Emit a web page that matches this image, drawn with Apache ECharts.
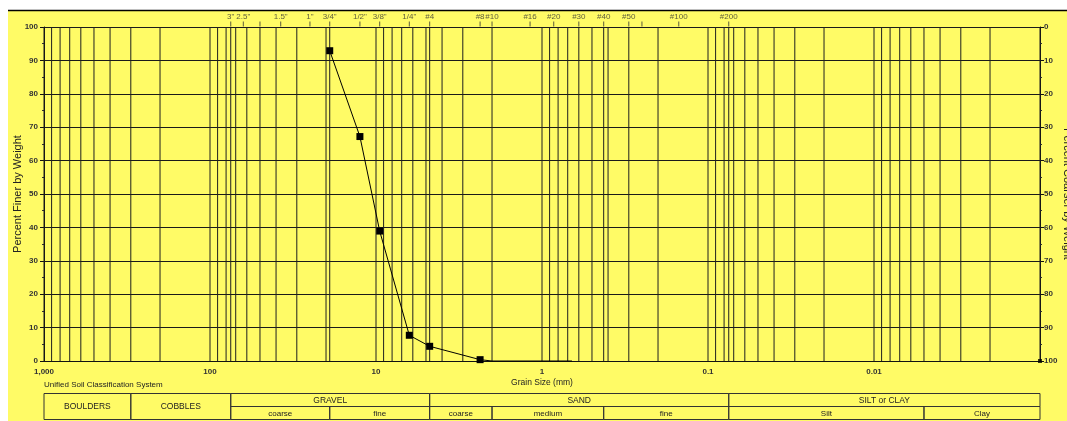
<!DOCTYPE html>
<html>
<head>
<meta charset="utf-8">
<script src="https://cdn.jsdelivr.net/npm/echarts@6/dist/echarts.min.js"></script>
<style>
  html, body { margin: 0; padding: 0; background: #ffffff; }
  #chart { width: 1067px; height: 421px; }
</style>
</head>
<body>
<div id="chart"></div>
<script>
// ---- Sieve analysis results ----
const grainSize    = [19, 12.5, 9.5, 6.3, 4.75, 2.36, 2.0, 0.66];
const percentFiner = [92.9, 67.2, 38.9, 7.7, 4.4, 0.4, 0, 0];
// fines end point
const finesSize    = [0.001];
const finesPercent = [0];

// ---- US standard sieve openings (mm) shown along the top ----
const sieveSizes = [75, 63, 50, 37.5, 25, 19, 12.5, 9.5, 6.3, 4.75, 2.36, 2.0, 1.18, 0.85, 0.6, 0.425, 0.3, 0.25, 0.15, 0.075];
const sieveNames = ['3"', '2.5"', '', '1.5"', '1"', '3/4"', '1/2"', '3/8"', '1/4"', '#4', '#8', '#10', '#16', '#20', '#30', '#40', '#50', '', '#100', '#200'];

// ---- bottom axis decade labels ----
const decadeValues = [1000, 100, 10, 1, 0.1, 0.01];
const decadeLabels = ['1,000', '100', '10', '1', '0.1', '0.01'];

// ---- extra vertical rules at USCS boundaries (mm) ----
const boundaryLines = [75, 19, 4.75, 0.425, 0.075];

// ---- Unified Soil Classification System table ----
const tableNames = ['BOULDERS', 'COBBLES', 'GRAVEL', 'SAND', 'SILT or CLAY', 'coarse', 'fine', 'coarse', 'medium', 'fine', 'Silt', 'Clay'];
const tableFrom  = [1000, 300, 75, 4.75, 0.075, 75, 19, 4.75, 2.0, 0.425, 0.075, 0.005];
const tableTo    = [300, 75, 4.75, 0.075, 0.001, 19, 4.75, 2.0, 0.425, 0.075, 0.005, 0.001];
const tableRows  = ['full', 'full', 'head', 'head', 'head', 'sub', 'sub', 'sub', 'sub', 'sub', 'sub', 'sub'];

const FONT = '"Liberation Sans", Arial, Helvetica, sans-serif';
const INK = '#222222';
const BG = '#fffb66';

// log grid: 1..9 in every decade from 0.001 to 1000
const gridValues = [];
for (let e = -3; e < 3; e++) {
  for (let m = 1; m <= 9; m++) gridValues.push(+(m * Math.pow(10, e)).toPrecision(6));
}
gridValues.push(1000);
boundaryLines.forEach(v => gridValues.push(v));

function decadeLabel(v) {
  for (let i = 0; i < decadeValues.length; i++) {
    if (Math.abs(Math.log10(v) - Math.log10(decadeValues[i])) < 1e-6) return decadeLabels[i];
  }
  return '';
}

const chart = echarts.init(document.getElementById('chart'), null, { renderer: 'canvas' });

const option = {
  animation: false,
  backgroundColor: 'transparent',
  textStyle: { fontFamily: FONT },
  graphic: [
    { type: 'rect', z: -100, silent: true, shape: { x: 8, y: 10, width: 1059, height: 411 }, style: { fill: BG } },
    { type: 'line', z: 10, silent: true, shape: { x1: 8, y1: 10.5, x2: 1067, y2: 10.5 }, style: { stroke: '#000', lineWidth: 1.5 } },
    { type: 'text', z: 10, silent: true, left: 44, top: 381,
      style: { text: 'Unified Soil Classification System', fill: INK, font: '8px ' + FONT } }
  ],
  grid: { left: 44, right: 27, top: 27, bottom: 60, containLabel: false, outerBoundsMode: 'none' },
  xAxis: [{
    type: 'log', logBase: 10, min: 0.001, max: 1000, inverse: true, splitNumber: 6,
    name: 'Grain Size (mm)', nameLocation: 'middle', nameGap: 17, nameMoveOverlap: false,
    nameTextStyle: { fontSize: 8.5, color: INK, fontFamily: FONT },
    axisLine: { show: true, lineStyle: { color: '#111', width: 1 } },
    axisTick: { show: false },
    splitLine: { show: false },
    minorTick: { show: false },
    axisLabel: { show: true, margin: 7, fontSize: 8, fontWeight: 'bold', color: '#333', fontFamily: FONT,
      formatter: decadeLabel, showMinLabel: true, showMaxLabel: true, hideOverlap: false }
  }],
  yAxis: [{
    type: 'value', min: 0, max: 100, interval: 10, position: 'left',
    name: 'Percent Finer by Weight', nameLocation: 'middle', nameRotate: 90, nameGap: 21, nameMoveOverlap: false,
    nameTextStyle: { fontSize: 11, color: INK, fontFamily: FONT },
    axisLine: { show: true, lineStyle: { color: '#111', width: 1 } },
    axisTick: { show: true, inside: false, length: 4, lineStyle: { color: '#111' } },
    minorTick: { show: true, splitNumber: 2, length: 2, lineStyle: { color: '#333' } },
    splitLine: { show: true, lineStyle: { color: '#1a1a1a', width: 1 } },
    axisLabel: { margin: 6, fontSize: 8, fontWeight: 'bold', color: '#333', fontFamily: FONT }
  }, {
    type: 'value', min: 0, max: 100, interval: 10, position: 'right', inverse: true,
    name: 'Percent Coarser by Weight', nameLocation: 'middle', nameRotate: -90, nameGap: 22, nameMoveOverlap: false,
    nameTextStyle: { fontSize: 11, color: INK, fontFamily: FONT },
    axisLine: { show: true, lineStyle: { color: '#111', width: 1 } },
    axisTick: { show: true, inside: false, length: 4, lineStyle: { color: '#111' } },
    minorTick: { show: true, splitNumber: 2, length: 2, lineStyle: { color: '#333' } },
    splitLine: { show: false },
    axisLabel: { margin: 4, fontSize: 8, fontWeight: 'bold', color: '#333', fontFamily: FONT }
  }],
  series: [
    {
      // vertical log grid and classification boundaries
      type: 'custom', name: 'grid', silent: true, z: 1,
      data: gridValues.map(v => [v, 0]),
      encode: { x: 0, y: 1 },
      renderItem(params, api) {
        const a = api.coord([api.value(0), 0]);
        const b = api.coord([api.value(0), 100]);
        return { type: 'line', shape: { x1: a[0], y1: a[1], x2: b[0], y2: b[1] },
                 style: { stroke: '#1f1f1f', lineWidth: 1 } };
      }
    },
    {
      // sieve ticks and names above the plot
      type: 'scatter', name: 'sieves', silent: true, z: 3, clip: false,
      symbol: 'rect', symbolSize: [1, 5], symbolOffset: [0, -3],
      itemStyle: { color: '#333' },
      data: sieveSizes.map((s, i) => ({ value: [s, 100], name: sieveNames[i] })),
      label: { show: true, position: 'top', distance: 1, formatter: '{b}',
               fontSize: 8, color: '#333', fontFamily: FONT }
    },
    {
      type: 'line', name: 'Percent Finer', z: 5, clip: false,
      smooth: false,
      symbol: 'rect',
      lineStyle: { color: '#000', width: 1 },
      itemStyle: { color: '#000' },
      data: grainSize.map((g, i) => ({ value: [g, percentFiner[i]], symbolSize: percentFiner[i] > 0 ? 7 : 0 }))
    },
    {
      type: 'scatter', name: 'fines', z: 5, clip: false, symbol: 'rect', symbolSize: 4,
      itemStyle: { color: '#000' },
      data: finesSize.map((g, i) => [g, finesPercent[i]])
    },
    {
      // USCS classification table under the axis
      type: 'custom', name: 'uscs', silent: true, z: 4, clip: false,
      data: tableFrom.map((v, i) => [v, tableTo[i], 0]),
      encode: { x: [0, 1], y: 2 },
      renderItem(params, api) {
        const i = params.dataIndex;
        const a = api.coord([api.value(0), 0]);
        const b = api.coord([api.value(1), 0]);
        const row = tableRows[i];
        const base = a[1];
        const top = base + (row === 'sub' ? 45.5 : 32.5);
        const h = row === 'full' ? 26 : 13;
        const x0 = Math.min(a[0], b[0]), x1 = Math.max(a[0], b[0]);
        return {
          type: 'group',
          children: [
            { type: 'rect', shape: { x: x0, y: top, width: x1 - x0, height: h },
              style: { fill: 'none', stroke: '#333', lineWidth: 1 } },
            { type: 'text',
              style: { text: tableNames[i], x: (x0 + x1) / 2, y: top + h / 2 + 0.5,
                       align: 'center', verticalAlign: 'middle', textAlign: 'center', textVerticalAlign: 'middle',
                       fill: INK, font: (row === 'sub' ? '8px ' : '8.5px ') + FONT } }
          ]
        };
      }
    }
  ]
};

chart.setOption(option);
</script>
</body>
</html>
